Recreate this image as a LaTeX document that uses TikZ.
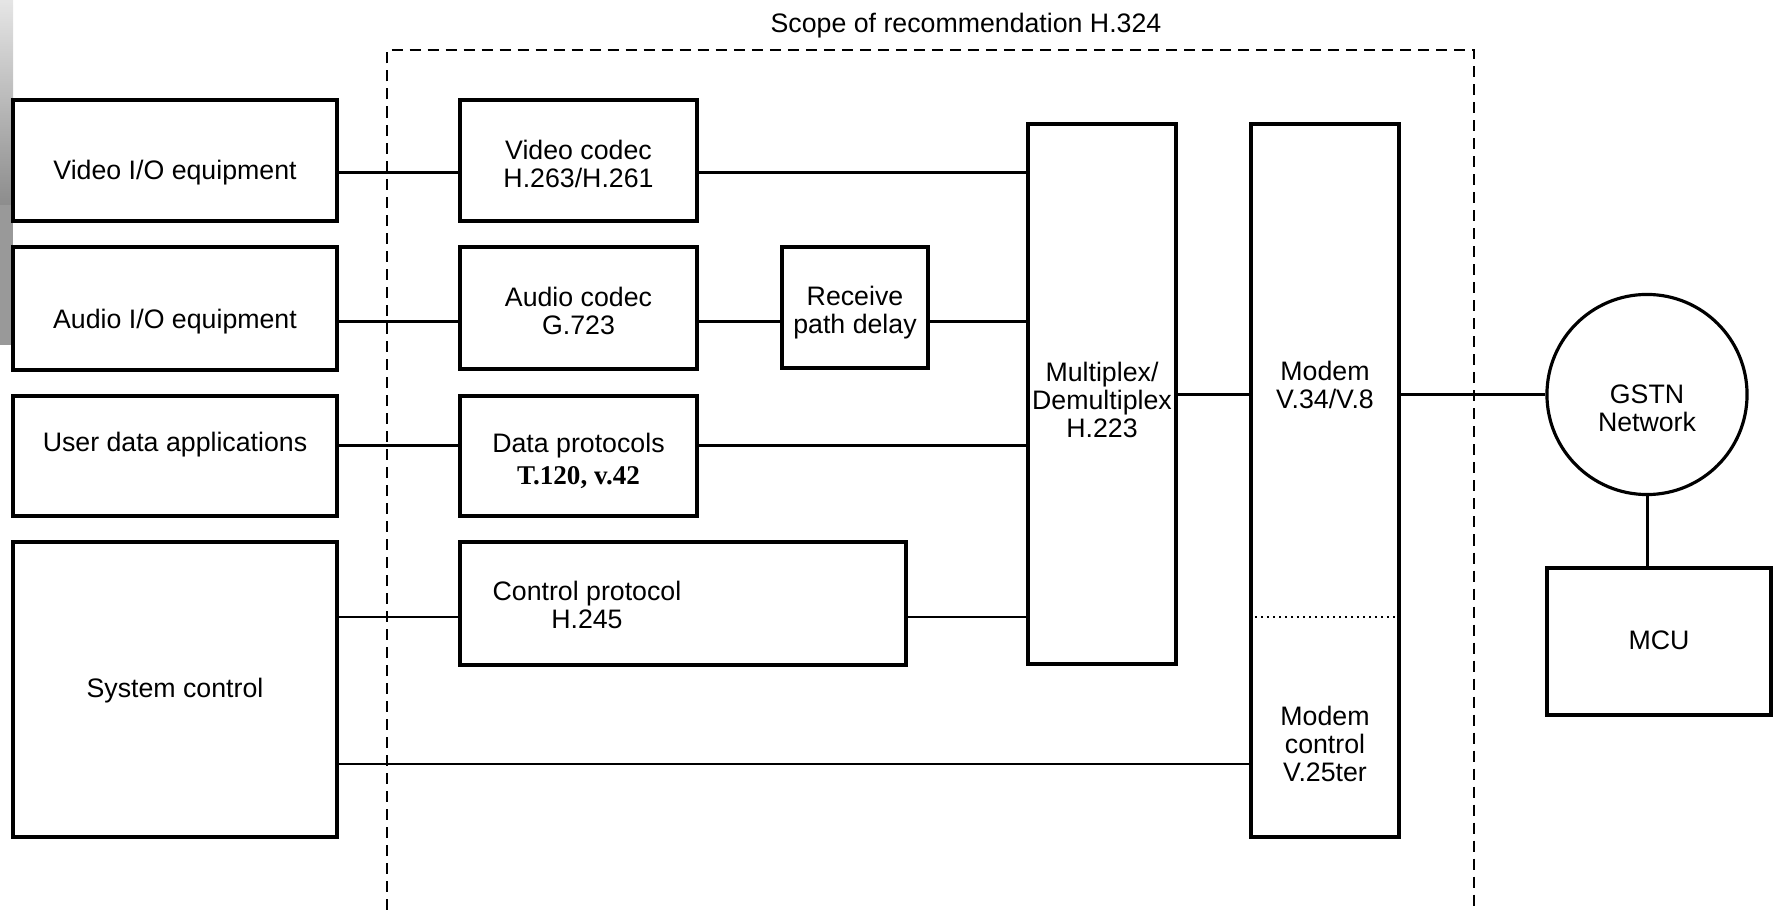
\documentclass[tikz,border=0pt]{standalone}
\usepackage{fontspec}
\setmainfont{Liberation Sans}
\newfontfamily\tnr{Liberation Serif}
% lines of a box, their middle lowered by #1 from the box centre
\newcommand{\boxtext}[2][0cm]{\raisebox{\dimexpr-2.75pt-(#1)\relax}[0pt][0pt]{\begin{tabular}{@{}c@{}}#2\end{tabular}}}

\begin{document}
\begin{tikzpicture}[x=0.01cm, y=-0.01cm,
  every node/.style={font=\fontsize{7.6}{8}\selectfont},
  box/.style={draw, line width=1pt, inner sep=0pt},
  wire/.style={line width=0.85pt},
  scopeline/.style={line width=0.55pt, dash pattern=on 0.11cm off 0.07cm},
  ctlsep/.style={line width=0.5pt, dash pattern=on 0.02cm off 0.04cm}]
\useasboundingbox (0,0) rectangle (1775,910);

% Grey strip at the left edge
\shade[top color=black!10, bottom color=black!45] (0,0) rectangle (13,205);
\fill[black!40] (0,205) rectangle (13,345);

% Scope of H.324
\draw[scopeline] (387,910) -- (387,50) -- (1474,50) -- (1474,910);
\node (scopelbl) at (966,24) {\boxtext{Scope of recommendation H.324}};

% Equipment
\node[box, minimum width=3.24cm, minimum height=1.21cm] (vio) at (175,160.5) {\boxtext[0.105cm]{Video I/O equipment}};
\node[box, minimum width=3.24cm, minimum height=1.23cm] (aio) at (175,308.5) {\boxtext[0.115cm]{Audio I/O equipment}};
\node[box, minimum width=3.24cm, minimum height=1.20cm] (udata) at (175,456) {\boxtext[-0.13cm]{User data applications}};
\node[box, minimum width=3.24cm, minimum height=2.95cm] (sysc) at (175,689.5) {\boxtext{System control}};

% H.324 blocks
\node[box, minimum width=2.37cm, minimum height=1.21cm] (vcod) at (578.5,160.5) {\boxtext[0.045cm]{Video codec\\H.263/H.261}};
\node[box, minimum width=2.37cm, minimum height=1.22cm] (acod) at (578.5,308) {\boxtext[0.04cm]{Audio codec\\G.723}};
\node[box, minimum width=2.37cm, minimum height=1.20cm] (dprot) at (578.5,456) {\boxtext[0.04cm]{Data protocols\\[1pt]{\tnr\bfseries\fontsize{7.7}{8}\selectfont T.120, v.42}}};
\node[box, minimum width=4.46cm, minimum height=1.23cm] (cprot) at (683,603.5) {\boxtext[0.025cm]{Control protocol\\H.245}\hspace*{1.92cm}};
\node[box, minimum width=1.46cm, minimum height=1.21cm] (delay) at (855,307.5) {\boxtext[0.04cm]{Receive\\path delay}};
\node[box, minimum width=1.48cm, minimum height=5.40cm] (mux) at (1102,394) {\boxtext[0.07cm]{Multiplex/\\Demultiplex\\H.223}};
\node[box, minimum width=1.48cm, minimum height=7.13cm] (modem) at (1325,480.5) {};
\node (modemtxt) at (1325,386) {\boxtext{Modem\\V.34/V.8}};
\node (modemctl) at (1325,745) {\boxtext{Modem\\control\\V.25ter}};

% Network side
\node[draw, circle, line width=0.9pt, minimum size=2cm, inner sep=0pt] (gstn) at (1647,394.5) {\boxtext[0.145cm]{GSTN\\Network}};
\node[box, minimum width=2.24cm, minimum height=1.47cm] (mcu) at (1659,641.5) {\boxtext{MCU}};

% Rows of the connectors
\coordinate (rowvid) at (0,173);
\coordinate (rowaud) at (0,322);
\coordinate (rowdat) at (0,446);
\coordinate (rownet) at (0,395);
\coordinate (rowctl) at (0,617);
\coordinate (rowsys) at (0,764);

% Connectors
\draw[wire] (vio.east |- rowvid) -- (vcod.west |- rowvid);
\draw[wire] (vcod.east |- rowvid) -- (mux.west |- rowvid);
\draw[wire] (aio.east |- rowaud) -- (acod.west |- rowaud);
\draw[wire] (acod.east |- rowaud) -- (delay.west |- rowaud);
\draw[wire] (delay.east |- rowaud) -- (mux.west |- rowaud);
\draw[wire] (udata.east |- rowdat) -- (dprot.west |- rowdat);
\draw[wire] (dprot.east |- rowdat) -- (mux.west |- rowdat);
\draw[wire] (sysc.east |- rowctl) -- (cprot.west |- rowctl);
\draw[wire] (cprot.east |- rowctl) -- (mux.west |- rowctl);
\draw[wire] (sysc.east |- rowsys) -- (modem.west |- rowsys);
\draw[wire] (mux.east |- rownet) -- (modem.west |- rownet);
\draw[wire] (modem.east |- rownet) -- (gstn.west |- rownet);
\draw[wire] (gstn.south) -- (gstn.south |- mcu.north);

% Modem / modem control split
\draw[ctlsep] (modem.west |- rowctl) -- (modem.east |- rowctl);
\end{tikzpicture}
\end{document}
